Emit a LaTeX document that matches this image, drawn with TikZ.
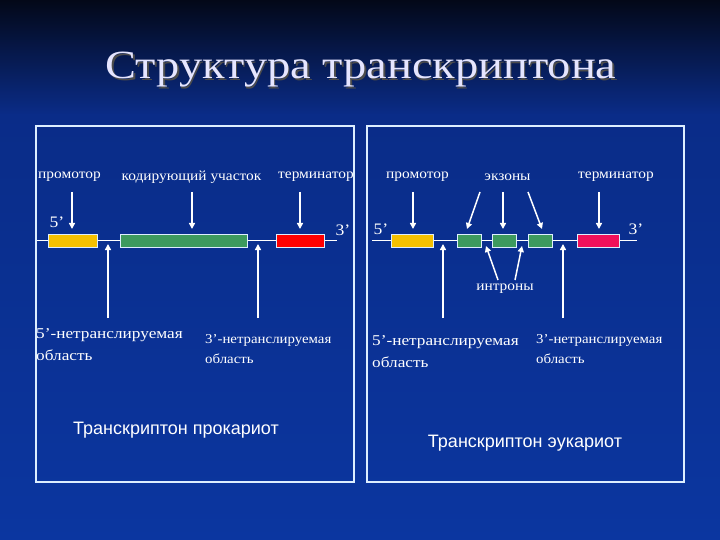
\documentclass[tikz,border=0pt]{standalone}
\usepackage{fontspec}
\setmainfont{Liberation Serif}
\newfontfamily\labfont[FakeStretch=1.1]{Liberation Serif}
\newfontfamily\widefont[FakeStretch=1.15]{Liberation Serif}
\newfontfamily\titlefont[FakeStretch=1.16]{Liberation Serif}
\newfontfamily\sansf{Liberation Sans}
\usetikzlibrary{arrows.meta}
\definecolor{bgtop}{HTML}{030818}
\definecolor{bgmid}{HTML}{0A2C88}
\definecolor{bgbot}{HTML}{0B36A0}
\definecolor{yel}{HTML}{F5C000}
\definecolor{grn}{HTML}{3D9A5E}
\definecolor{redb}{HTML}{FF0000}
\definecolor{pinkb}{HTML}{F0105A}
\definecolor{edge}{HTML}{DDEEFF}
\tikzset{
  lab/.style={text=white, font=\labfont\fontsize{14}{16}\selectfont, inner sep=0pt},
  ends/.style={text=white, font=\labfont\fontsize{16}{18}\selectfont, inner sep=0pt},
  utr/.style={text=white, inner sep=0pt, align=left, anchor=north west},
  utrA/.style={utr, font=\widefont\fontsize{15}{22}\selectfont},
  utrB/.style={utr, font=\labfont\fontsize{13.5}{20}\selectfont},
  gene/.style={draw=edge, line width=0.9pt, minimum height=13pt, inner sep=0pt},
  arr/.style={draw=white, line width=1.5pt, -{Triangle[width=6pt,length=6pt]}},
  frame/.style={draw=edge, line width=1.3pt},
  dna/.style={draw=white, line width=1pt},
  captxt/.style={text=white, font=\sansf\fontsize{18}{20}\selectfont, inner sep=0pt}
}
\begin{document}
\begin{tikzpicture}[x=1pt,y=-1pt]
\useasboundingbox (0,0) rectangle (720,540);
\shade[top color=bgtop, bottom color=bgmid] (0,0) rectangle (720,115);
\shade[top color=bgmid, bottom color=bgbot] (0,115) rectangle (720,540);
% title
\node[text=black!70, font=\titlefont\fontsize{40}{44}\selectfont, inner sep=0pt] at (362.5,71.5) {Структура транскриптона};
\node[text=white!90!blue, font=\titlefont\fontsize{40}{44}\selectfont, inner sep=0pt] (title) at (361,70) {Структура транскриптона};
% frames
\draw[frame] (36,126) rectangle (354,482);
\draw[frame] (367,126) rectangle (684,482);

% ===== left panel =====
\node[lab] (lp) at (69.5,177) {промотор};
\node[lab] (lc) at (191.5,177) {кодирующий участок};
\node[lab] (lt) at (316,177) {терминатор};
\node[ends] (l5) at (57,222) {5’};
\node[ends] (l3) at (343,230) {3’};
\coordinate (lls) at (37,240.5);
\coordinate (lle) at (337,240.5);
\draw[dna] (lls) -- (lle);
\node[gene, fill=yel, minimum width=49pt] (ly) at (72.5,240.5) {};
\node[gene, fill=grn, minimum width=127pt] (lg) at (183.5,240.5) {};
\node[gene, fill=redb, minimum width=48pt] (lr) at (300,240.5) {};
\coordinate (lpa) at (72,192); \coordinate (lpb) at (72,229);
\coordinate (lca) at (192,192); \coordinate (lcb) at (192,229);
\coordinate (lta) at (300,192); \coordinate (ltb) at (300,229);
\draw[arr] (lpa) -- (lpb);
\draw[arr] (lca) -- (lcb);
\draw[arr] (lta) -- (ltb);
\coordinate (lua) at (108,318); \coordinate (lub) at (108,244);
\coordinate (lva) at (258,318); \coordinate (lvb) at (258,244);
\draw[arr] (lua) -- (lub);
\draw[arr] (lva) -- (lvb);
\node[utrA] (l5u) at (36,328) {5’-нетранслируемая\\область};
\node[utrB] (l3u) at (205,334) {3’-нетранслируемая\\область};
\node[captxt] (lcap) at (176,430) {Транскриптон прокариот};

% ===== right panel =====
\node[lab] (rp) at (417.5,177) {промотор};
\node[lab] (re) at (507.5,177) {экзоны};
\node[lab] (rt) at (616,177) {терминатор};
\node[ends] (r5) at (381,229) {5’};
\node[ends] (r3) at (636,229) {3’};
\coordinate (rls) at (372,240.5);
\coordinate (rle) at (637,240.5);
\draw[dna] (rls) -- (rle);
\node[gene, fill=yel, minimum width=42pt] (ry) at (412,240.5) {};
\node[gene, fill=grn, minimum width=24pt] (rg1) at (469,240.5) {};
\node[gene, fill=grn, minimum width=24pt] (rg2) at (504.5,240.5) {};
\node[gene, fill=grn, minimum width=24pt] (rg3) at (540.5,240.5) {};
\node[gene, fill=pinkb, minimum width=42pt] (rr) at (598,240.5) {};
\coordinate (rpa) at (413,192); \coordinate (rpb) at (413,229);
\coordinate (rea) at (503,192); \coordinate (reb) at (503,229);
\coordinate (rela) at (480,192); \coordinate (relb) at (467,229);
\coordinate (rera) at (528,192); \coordinate (rerb) at (542,229);
\coordinate (rta) at (599,192); \coordinate (rtb) at (599,229);
\draw[arr] (rpa) -- (rpb);
\draw[arr] (rea) -- (reb);
\draw[arr] (rela) -- (relb);
\draw[arr] (rera) -- (rerb);
\draw[arr] (rta) -- (rtb);
\node[lab] (rin) at (505,289) {интроны};
\coordinate (ria) at (498,280); \coordinate (rib) at (486,246);
\coordinate (rja) at (515,280); \coordinate (rjb) at (522,246);
\draw[arr] (ria) -- (rib);
\draw[arr] (rja) -- (rjb);
\coordinate (rua) at (443,318); \coordinate (rub) at (443,244);
\coordinate (rva) at (563,318); \coordinate (rvb) at (563,244);
\draw[arr] (rua) -- (rub);
\draw[arr] (rva) -- (rvb);
\node[utrA] (r5u) at (372,335) {5’-нетранслируемая\\область};
\node[utrB] (r3u) at (536,334) {3’-нетранслируемая\\область};
\node[captxt] (rcap) at (525,443) {Транскриптон эукариот};
\end{tikzpicture}
\end{document}
